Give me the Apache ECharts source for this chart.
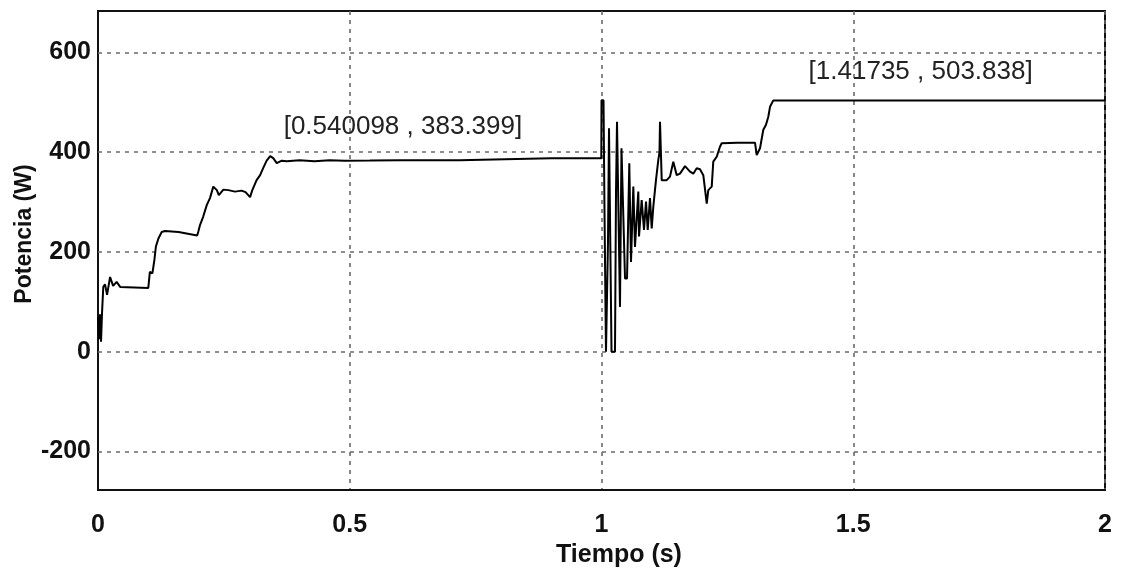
<!DOCTYPE html>
<html>
<head>
<meta charset="utf-8">
<script src="https://cdn.jsdelivr.net/npm/echarts@6/dist/echarts.min.js"></script>
<style>
  html, body { margin: 0; padding: 0; background: #fff; }
  #chart { width: 1126px; height: 573px; }
</style>
</head>
<body>
<div id="chart"></div>
<script>
// Time (s)
var timeValues = [
  0.000, 0.002, 0.004, 0.006, 0.008, 0.010, 0.0105, 0.014, 0.018, 0.024, 0.030, 0.037, 0.044, 0.0999,
  0.103, 0.108, 0.112, 0.115, 0.120, 0.1265, 0.133, 0.160, 0.197, 0.199,
  0.2026, 0.209, 0.216, 0.2224, 0.229, 0.236, 0.240, 0.249, 0.259, 0.272, 0.285, 0.293, 0.302, 0.3065,
  0.315, 0.322, 0.328, 0.335, 0.342, 0.348, 0.355, 0.365, 0.375, 0.400, 0.430, 0.460, 0.490, 0.540098,
  0.600, 0.718, 0.721, 0.900, 0.9996,
  1.0000, 1.0040, 1.0060, 1.0089, 1.0119, 1.0129, 1.0149, 1.0179, 1.0199, 1.0268, 1.0288, 1.0308,
  1.0328, 1.0367, 1.0397, 1.0427, 1.0467, 1.0507, 1.0552, 1.0576, 1.0586, 1.0632, 1.0665, 1.0731,
  1.0745, 1.0798, 1.0844, 1.0884, 1.0918, 1.0963, 1.0997, 1.1029, 1.1082, 1.1128, 1.1152, 1.1162,
  1.1182, 1.1196, 1.1227, 1.1295, 1.1360, 1.1426, 1.1494, 1.1559, 1.1659, 1.1758, 1.1823, 1.1891,
  1.1956, 1.2022, 1.2056, 1.2090, 1.2121, 1.2189, 1.2220, 1.2288, 1.2353, 1.2387, 1.2700, 1.3049,
  1.3083, 1.3148, 1.3214, 1.3267, 1.3313, 1.3347, 1.3412, 1.41735, 2.000
];
// Power (W)
var powerValues = [
  70, 25, 75, 20, 78, 78, 130, 135, 114, 150, 132, 140, 130, 128,
  160, 157, 184, 211, 227, 240, 242, 240, 233, 240,
  254, 271, 294, 308, 331, 324, 314, 325, 324, 321, 323, 320, 310, 324,
  344, 354, 368, 383, 392, 388, 378, 383, 382, 384, 382, 384, 383, 383.399,
  384, 384, 388, 388, 388,
  504, 504, 278, 0, 0, 220, 448, 448, 0, 0, 320, 461,
  461, 90, 408, 408, 147, 147, 378, 378, 180, 331, 210, 321,
  231, 304, 244, 301, 244, 308, 247, 291, 344, 384, 400, 461,
  461, 344, 344, 344, 351, 381, 354, 357, 372, 361, 357, 368,
  366, 354, 351, 297, 324, 331, 381, 391, 411, 418, 419, 419,
  394, 408, 445, 455, 471, 491, 503.838, 503.838, 503.838
];
var yTickValues = [-200, 0, 200, 400, 600];
var xTickValues = [0, 0.5, 1, 1.5, 2];
var dataTips = [[0.540098, 383.399], [1.41735, 503.838]];
var xTitle = 'Tiempo (s)';
var yTitle = 'Potencia (W)';

var seriesData = timeValues.map(function (t, i) { return [t, powerValues[i]]; });

var chart = echarts.init(document.getElementById('chart'), null, { renderer: 'canvas' });
var fontFam = '"Liberation Sans", Arial, sans-serif';
var gridLine = { color: '#6a6a6a', width: 1.6, type: [4, 5] };

chart.setOption({
  animation: false,
  backgroundColor: '#ffffff',
  grid: { left: 98, top: 11, right: 21, bottom: 83, show: true, borderColor: '#111', borderWidth: 2, backgroundColor: '#fff' },
  graphic: [
    { type: 'text', left: 622 - 66, top: 543, z: 10,
      style: { text: xTitle, fontFamily: fontFam, fontSize: 25, fontWeight: 'bold', fill: '#111' } },
    { type: 'text', x: 25, y: 234, rotation: Math.PI / 2, z: 10,
      style: { text: yTitle, fontFamily: fontFam, fontSize: 23, fontWeight: 'bold', fill: '#111',
        align: 'center', verticalAlign: 'middle' } }
  ],
  xAxis: {
    type: 'value', min: 0, max: 2, interval: 0.5,
    axisLine: { show: true, onZero: false, lineStyle: { color: '#111', width: 2 } },
    axisTick: { show: false },
    axisLabel: { margin: 23, fontFamily: fontFam, fontSize: 25, fontWeight: 'bold', color: '#111',
      customValues: xTickValues,
      formatter: function (v) { return String(v); } },
    splitLine: { show: true, lineStyle: gridLine }
  },
  yAxis: {
    type: 'value', min: -277, max: 683,
    axisLine: { show: true, onZero: false, lineStyle: { color: '#111', width: 2 } },
    axisTick: { show: false, customValues: yTickValues },
    axisLabel: { margin: 7, fontFamily: fontFam, fontSize: 25, fontWeight: 'bold', color: '#111',
      customValues: yTickValues, verticalAlign: 'middle' },
    splitLine: { show: false }
  },
  series: [{
    type: 'line',
    data: seriesData,
    showSymbol: false,
    symbol: 'none',
    lineStyle: { color: '#000', width: 2 },
    z: 5,
    markLine: {
      silent: true, symbol: 'none', animation: false,
      label: { show: false },
      lineStyle: gridLine,
      data: yTickValues.map(function (v) { return { yAxis: v }; })
    },
    markPoint: {
      symbol: 'circle', symbolSize: 0, silent: true,
      data: [
        { coord: dataTips[0], label: { show: true, offset: [33, -34] } },
        { coord: dataTips[1], label: { show: true, offset: [109, -29] } }
      ],
      label: {
        show: true, position: 'inside',
        fontFamily: fontFam, fontSize: 26, color: '#222',
        formatter: function (p) { return '[' + p.data.coord[0] + ' , ' + p.data.coord[1] + ']'; }
      }
    }
  }]
});
</script>
</body>
</html>
